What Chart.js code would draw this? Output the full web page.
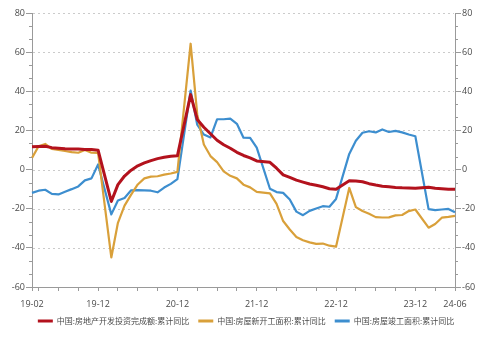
<!DOCTYPE html>
<html>
<head>
<meta charset="utf-8">
<script src="https://cdn.jsdelivr.net/npm/chart.js@4/dist/chart.umd.min.js"></script>
<style>
  html, body { margin: 0; padding: 0; background: #ffffff; }
  #wrap { width: 492px; height: 337px; }
</style>
</head>
<body>
<div id="wrap"><canvas id="c" width="492" height="337"></canvas></div>
<script>
// Monthly categories, Feb 2019 – Jun 2024 (January figures are not published; kept as gaps)
const months = [
  '19-02','19-03','19-04','19-05','19-06','19-07','19-08','19-09','19-10','19-11','19-12',
  '20-01','20-02','20-03','20-04','20-05','20-06','20-07','20-08','20-09','20-10','20-11','20-12',
  '21-01','21-02','21-03','21-04','21-05','21-06','21-07','21-08','21-09','21-10','21-11','21-12',
  '22-01','22-02','22-03','22-04','22-05','22-06','22-07','22-08','22-09','22-10','22-11','22-12',
  '23-01','23-02','23-03','23-04','23-05','23-06','23-07','23-08','23-09','23-10','23-11','23-12',
  '24-01','24-02','24-03','24-04','24-05','24-06'
];

// 房地产开发投资完成额:累计同比 (%)
const investment = [
  11.6, 11.8, 11.9, 11.2, 10.9, 10.6, 10.5, 10.5, 10.3, 10.2, 9.9,
  null, -16.3, -7.7, -3.3, -0.3, 1.9, 3.4, 4.6, 5.6, 6.3, 6.8, 7.0,
  null, 38.3, 25.6, 21.6, 18.3, 15.0, 12.7, 10.9, 8.8, 7.2, 6.0, 4.4,
  null, 3.7, 0.7, -2.7, -4.0, -5.4, -6.4, -7.4, -8.0, -8.8, -9.8, -10.0,
  null, -5.7, -5.8, -6.2, -7.2, -7.9, -8.5, -8.8, -9.1, -9.3, -9.4, -9.6,
  null, -9.0, -9.5, -9.8, -10.1, -10.1
];

// 房屋新开工面积:累计同比 (%)
const newStarts = [
  6.0, 11.9, 13.1, 10.5, 10.1, 9.5, 8.9, 8.6, 10.0, 8.6, 8.5,
  null, -44.9, -27.2, -18.4, -12.8, -7.6, -4.5, -3.6, -3.4, -2.6, -2.0, -1.2,
  null, 64.3, 28.2, 12.8, 6.9, 3.8, -0.9, -3.2, -4.5, -7.7, -9.1, -11.4,
  null, -12.2, -17.5, -26.3, -30.6, -34.4, -36.1, -37.2, -38.0, -37.8, -38.9, -39.4,
  null, -9.4, -19.2, -21.2, -22.6, -24.3, -24.5, -24.4, -23.4, -23.2, -21.2, -20.4,
  null, -29.7, -27.8, -24.6, -24.2, -23.7
];

// 房屋竣工面积:累计同比 (%)
const completions = [
  -11.9, -10.8, -10.3, -12.4, -12.7, -11.3, -10.0, -8.6, -5.5, -4.5, 2.6,
  null, -22.9, -15.8, -14.5, -10.6, -10.5, -10.6, -10.8, -11.6, -9.2, -7.3, -4.9,
  null, 40.4, 22.9, 17.9, 16.4, 25.7, 25.7, 26.0, 23.4, 16.3, 16.2, 11.2,
  null, -9.8, -11.5, -11.9, -15.3, -21.5, -23.3, -21.1, -19.9, -18.7, -19.0, -15.0,
  null, 8.0, 14.7, 18.8, 19.6, 19.0, 20.5, 19.2, 19.8, 19.0, 17.9, 17.0,
  null, -20.2, -20.7, -20.4, -20.1, -21.8
];

const seriesNames = ['中国:房地产开发投资完成额:累计同比', '中国:房屋新开工面积:累计同比', '中国:房屋竣工面积:累计同比'];
const xTickLabels = ['19-02', '19-12', '20-12', '21-12', '22-12', '23-12', '24-06'];
const yMin = -60, yMax = 80, yStep = 20;

const AXIS = '#9a9a9a';
const TEXT = '#4a4a4a';
const TICK_FONT = { family: 'Open Sans, Noto Sans, sans-serif', size: 9 };

// dotted horizontal grid at each major step, drawn under the lines
const dottedGrid = {
  id: 'dottedGrid',
  beforeDatasetsDraw(chart) {
    const { ctx, chartArea } = chart;
    const s = chart.scales.y;
    ctx.save();
    ctx.strokeStyle = 'rgba(185,185,185,0.75)';
    ctx.lineWidth = 1;
    ctx.setLineDash([2, 3]);
    s.ticks.forEach(t => {
      if (t.value === yMin) return;
      const y = Math.round(s.getPixelForValue(t.value)) + 0.5;
      ctx.beginPath();
      ctx.moveTo(chartArea.left + 1, y);
      ctx.lineTo(chartArea.right - 1, y);
      ctx.stroke();
    });
    ctx.restore();
  }
};

// short minor ticks on both value axes (three intervals per major step)
const minorTicks = {
  id: 'minorTicks',
  afterDraw(chart) {
    const ctx = chart.ctx;
    ctx.save();
    ctx.strokeStyle = AXIS;
    ctx.lineWidth = 1;
    ['y', 'y1'].forEach(id => {
      const s = chart.scales[id];
      const left = s.position === 'left';
      const x0 = left ? s.right : s.left;
      for (let k = 0; k < (yMax - yMin) / yStep; k++) {
        for (let m = 1; m < 3; m++) {
          const v = yMin + k * yStep + m * yStep / 3;
          const y = Math.round(s.getPixelForValue(v)) + 0.5;
          ctx.beginPath();
          ctx.moveTo(x0, y);
          ctx.lineTo(left ? x0 - 3 : x0 + 3, y);
          ctx.stroke();
        }
      }
    });
    ctx.restore();
  }
};

const isQuarterTick = (i) => {
  const m = months[i];
  if (i === 0 || i === months.length - 1) return true;
  const mm = m.slice(3);
  return mm === '03' || mm === '06' || mm === '09' || mm === '12';
};

const valueAxis = (position) => ({
  type: 'linear',
  position,
  min: yMin,
  max: yMax,
  afterFit(scale) { scale.width = position === 'left' ? 32 : 37; },
  ticks: {
    stepSize: yStep,
    padding: 1,
    color: TEXT,
    font: TICK_FONT
  },
  grid: {
    display: true,
    drawOnChartArea: false,
    drawTicks: true,
    tickLength: 6,
    tickColor: AXIS
  },
  border: { display: true, color: AXIS, width: 1 }
});

new Chart(document.getElementById('c'), {
  type: 'line',
  data: {
    labels: months,
    datasets: [
      { label: seriesNames[0], data: investment, borderColor: '#b3121d', backgroundColor: '#b3121d', borderWidth: 3 },
      { label: seriesNames[1], data: newStarts, borderColor: '#d9a03a', backgroundColor: '#d9a03a', borderWidth: 2.2 },
      { label: seriesNames[2], data: completions, borderColor: '#3d8ecf', backgroundColor: '#3d8ecf', borderWidth: 2.2 }
    ]
  },
  options: {
    responsive: false,
    animation: false,
    spanGaps: true,
    elements: { point: { radius: 0, hoverRadius: 0 }, line: { tension: 0, borderJoinStyle: 'round' } },
    layout: { padding: { top: 13, left: 0, right: 0, bottom: 2 } },
    scales: {
      x: {
        type: 'category',
        offset: false,
        afterFit(scale) { scale.height = 21; },
        ticks: {
          autoSkip: false,
          maxRotation: 0,
          padding: 8,
          color: TEXT,
          font: TICK_FONT,
          callback: (v, i) => xTickLabels.includes(months[i]) ? months[i] : ''
        },
        grid: {
          display: true,
          drawOnChartArea: false,
          drawTicks: true,
          tickLength: 4,
          tickColor: (c) => isQuarterTick(c.index) ? AXIS : 'rgba(0,0,0,0)'
        },
        border: { display: true, color: AXIS, width: 1 }
      },
      y: valueAxis('left'),
      y1: valueAxis('right')
    },
    plugins: {
      tooltip: { enabled: false },
      legend: {
        position: 'bottom',
        labels: {
          boxWidth: 15,
          boxHeight: 3,
          padding: 9,
          color: TEXT,
          font: { family: 'Noto Sans CJK SC, sans-serif', size: 8 },
          generateLabels(chart) {
            return Chart.defaults.plugins.legend.labels.generateLabels(chart).map(item => {
              item.fillStyle = item.strokeStyle;
              item.lineWidth = 0;
              return item;
            });
          }
        }
      }
    }
  },
  plugins: [dottedGrid, minorTicks]
});
</script>
</body>
</html>
